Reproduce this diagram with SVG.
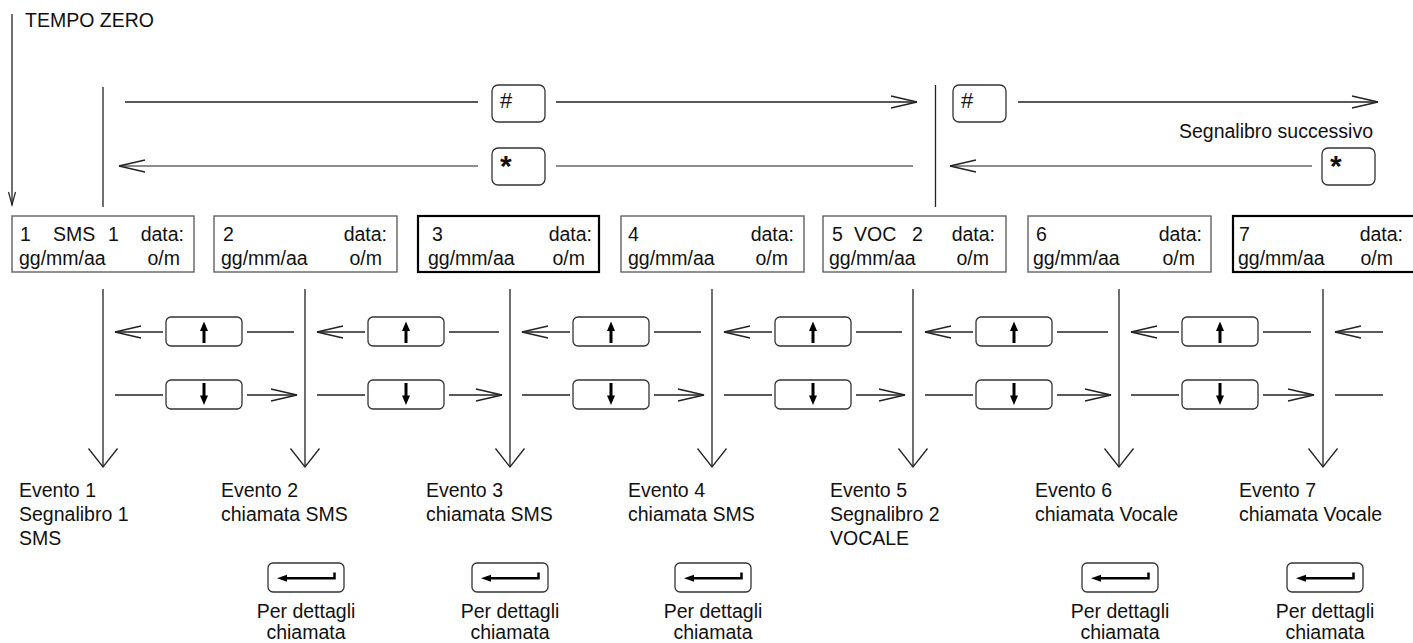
<svg xmlns="http://www.w3.org/2000/svg" width="1413" height="643" viewBox="0 0 1413 643">
<style>
text{font-family:"Liberation Sans",Arial,sans-serif;font-size:19.5px;fill:#111}
.ln{stroke:#222;stroke-width:1.3;fill:none}
.lg{stroke:#666;stroke-width:1.5;fill:none}
.key{fill:#fff;stroke:#333;stroke-width:1.3}
.box{fill:#fff;stroke:#555;stroke-width:1.3}
.boxb{fill:#fff;stroke:#000;stroke-width:2.2}
.ico{stroke:#000;stroke-width:3;fill:none}
.icf{fill:#000}
.end{text-anchor:end}
.mid{text-anchor:middle}
.hash{font-size:22px}
.star{font-weight:bold;font-size:30px}
</style>
<defs>
<marker id="ah" markerUnits="userSpaceOnUse" orient="auto" overflow="visible" refX="0" refY="0" markerWidth="30" markerHeight="30"><path d="M-26,-6 L0,0 L-26,6" fill="none" stroke="#222" stroke-width="1.3"/></marker>
<marker id="av" markerUnits="userSpaceOnUse" orient="auto" overflow="visible" refX="0" refY="0" markerWidth="30" markerHeight="30"><path d="M-18.5,-14.5 L0,0 L-18.5,14.5" fill="none" stroke="#222" stroke-width="1.3"/></marker>
<marker id="as" markerUnits="userSpaceOnUse" orient="auto" overflow="visible" refX="0" refY="0" markerWidth="20" markerHeight="20"><path d="M-13,-3.5 L0,0 L-13,3.5" fill="none" stroke="#222" stroke-width="1.2"/></marker>
<g id="upk"><rect class="key" x="0" y="0" width="76" height="29" rx="5"/><line class="ico" x1="38" y1="12" x2="38" y2="26"/><path class="icf" d="M38,4.5 L34,14 L42,14 Z"/></g>
<g id="dnk"><rect class="key" x="0" y="0" width="76" height="29" rx="5"/><line class="ico" x1="38" y1="3" x2="38" y2="17"/><path class="icf" d="M38,25 L34,15.5 L42,15.5 Z"/></g>
<g id="ent"><rect class="key" x="0" y="0" width="76" height="29" rx="5"/><path d="M17,15.3 L66.5,15.3 L66.5,9.5" fill="none" stroke="#000" stroke-width="2.5"/><path class="icf" d="M9,15.3 L19,11.8 L19,18.8 Z"/></g>
</defs>

<g id="tempo-zero"><text x="25" y="27">TEMPO ZERO</text></g>

<g id="connectors">
<line class="ln" x1="12" y1="14" x2="12" y2="205" marker-end="url(#as)"/>
<line class="ln" x1="103" y1="87" x2="103" y2="207"/>
<line class="ln" x1="935.5" y1="85" x2="935.5" y2="207"/>
<line class="ln" x1="125" y1="102" x2="478" y2="102"/>
<line class="ln" x1="556" y1="102" x2="917" y2="102" marker-end="url(#ah)"/>
<line class="ln" x1="1018" y1="102" x2="1378" y2="102" marker-end="url(#ah)"/>
<line class="lg" x1="478" y1="166" x2="119" y2="166" marker-end="url(#ah)"/>
<line class="lg" x1="556" y1="166" x2="913" y2="166"/>
<line class="lg" x1="1312" y1="166" x2="950" y2="166" marker-end="url(#ah)"/>
<line class="ln" x1="103" y1="289" x2="103" y2="467" marker-end="url(#av)"/>
<line class="ln" x1="305" y1="289" x2="305" y2="467" marker-end="url(#av)"/>
<line class="ln" x1="510" y1="289" x2="510" y2="467" marker-end="url(#av)"/>
<line class="ln" x1="712" y1="289" x2="712" y2="467" marker-end="url(#av)"/>
<line class="ln" x1="913" y1="289" x2="913" y2="467" marker-end="url(#av)"/>
<line class="ln" x1="1119" y1="289" x2="1119" y2="467" marker-end="url(#av)"/>
<line class="ln" x1="1323" y1="289" x2="1323" y2="467" marker-end="url(#av)"/>
<line class="ln" x1="163" y1="332" x2="115" y2="332" marker-end="url(#ah)"/>
<line class="ln" x1="247" y1="332" x2="294" y2="332"/>
<line class="ln" x1="115" y1="395" x2="163" y2="395"/>
<line class="ln" x1="247" y1="395" x2="297" y2="395" marker-end="url(#ah)"/>
<line class="ln" x1="365" y1="332" x2="317" y2="332" marker-end="url(#ah)"/>
<line class="ln" x1="449" y1="332" x2="499" y2="332"/>
<line class="ln" x1="317" y1="395" x2="365" y2="395"/>
<line class="ln" x1="449" y1="395" x2="502" y2="395" marker-end="url(#ah)"/>
<line class="ln" x1="570" y1="332" x2="522" y2="332" marker-end="url(#ah)"/>
<line class="ln" x1="654" y1="332" x2="701" y2="332"/>
<line class="ln" x1="522" y1="395" x2="570" y2="395"/>
<line class="ln" x1="654" y1="395" x2="704" y2="395" marker-end="url(#ah)"/>
<line class="ln" x1="772" y1="332" x2="724" y2="332" marker-end="url(#ah)"/>
<line class="ln" x1="856" y1="332" x2="902" y2="332"/>
<line class="ln" x1="724" y1="395" x2="772" y2="395"/>
<line class="ln" x1="856" y1="395" x2="905" y2="395" marker-end="url(#ah)"/>
<line class="ln" x1="973" y1="332" x2="925" y2="332" marker-end="url(#ah)"/>
<line class="ln" x1="1057" y1="332" x2="1108" y2="332"/>
<line class="ln" x1="925" y1="395" x2="973" y2="395"/>
<line class="ln" x1="1057" y1="395" x2="1111" y2="395" marker-end="url(#ah)"/>
<line class="ln" x1="1179" y1="332" x2="1131" y2="332" marker-end="url(#ah)"/>
<line class="ln" x1="1263" y1="332" x2="1311" y2="332"/>
<line class="ln" x1="1131" y1="395" x2="1179" y2="395"/>
<line class="ln" x1="1263" y1="395" x2="1314" y2="395" marker-end="url(#ah)"/>
<line class="ln" x1="1383" y1="332" x2="1335" y2="332" marker-end="url(#ah)"/>
<line class="ln" x1="1335" y1="395" x2="1383" y2="395"/>
</g>

<g id="key-hash-1"><rect class="key" x="492" y="85" width="53" height="37" rx="6"/><text class="hash" x="500" y="108">#</text></g>
<g id="key-hash-2"><rect class="key" x="953" y="85" width="53" height="37" rx="6"/><text class="hash" x="961" y="108">#</text></g>
<g id="key-star-1"><rect class="key" x="492" y="148" width="53" height="37" rx="6"/><text class="star" x="500" y="176">*</text></g>
<g id="key-star-2"><rect class="key" x="1322" y="148" width="53" height="37" rx="6"/><text class="star" x="1330" y="176">*</text></g>
<g id="label-next"><text class="end" x="1373" y="138">Segnalibro successivo</text></g>

<g id="box-1"><rect class="box" x="12" y="216" width="182" height="56"/>
<text x="20" y="241">1</text><text x="53" y="241">SMS</text><text x="108" y="241">1</text><text class="end" x="184" y="241">data:</text>
<text x="19" y="265">gg/mm/aa</text><text class="end" x="180" y="265">o/m</text></g>
<g id="box-2"><rect class="box" x="214" y="216" width="183" height="56"/>
<text x="223" y="241">2</text><text class="end" x="387" y="241">data:</text>
<text x="221" y="265">gg/mm/aa</text><text class="end" x="382" y="265">o/m</text></g>
<g id="box-3"><rect class="boxb" x="418" y="216" width="181" height="56"/>
<text x="432" y="241">3</text><text class="end" x="592" y="241">data:</text>
<text x="428" y="265">gg/mm/aa</text><text class="end" x="585" y="265">o/m</text></g>
<g id="box-4"><rect class="box" x="621" y="216" width="183" height="56"/>
<text x="628" y="241">4</text><text class="end" x="794" y="241">data:</text>
<text x="628" y="265">gg/mm/aa</text><text class="end" x="788" y="265">o/m</text></g>
<g id="box-5"><rect class="box" x="823" y="216" width="183" height="56"/>
<text x="832" y="241">5</text><text x="854" y="241">VOC</text><text x="912" y="241">2</text><text class="end" x="995" y="241">data:</text>
<text x="829" y="265">gg/mm/aa</text><text class="end" x="989" y="265">o/m</text></g>
<g id="box-6"><rect class="box" x="1028" y="216" width="183" height="56"/>
<text x="1036" y="241">6</text><text class="end" x="1202" y="241">data:</text>
<text x="1033" y="265">gg/mm/aa</text><text class="end" x="1195" y="265">o/m</text></g>
<g id="box-7"><rect class="boxb" x="1233" y="216" width="183" height="56"/>
<text x="1239" y="241">7</text><text class="end" x="1403" y="241">data:</text>
<text x="1238" y="265">gg/mm/aa</text><text class="end" x="1393" y="265">o/m</text></g>

<g id="nav-keys">
<use href="#upk" x="166" y="317"/><use href="#dnk" x="166" y="380"/>
<use href="#upk" x="368" y="317"/><use href="#dnk" x="368" y="380"/>
<use href="#upk" x="573" y="317"/><use href="#dnk" x="573" y="380"/>
<use href="#upk" x="775" y="317"/><use href="#dnk" x="775" y="380"/>
<use href="#upk" x="976" y="317"/><use href="#dnk" x="976" y="380"/>
<use href="#upk" x="1182" y="317"/><use href="#dnk" x="1182" y="380"/>
</g>

<g id="event-1"><text x="19" y="497">Evento 1</text><text x="19" y="521">Segnalibro 1</text><text x="19" y="545">SMS</text></g>
<g id="event-2"><text x="221" y="497">Evento 2</text><text x="221" y="521">chiamata SMS</text></g>
<g id="event-3"><text x="426" y="497">Evento 3</text><text x="426" y="521">chiamata SMS</text></g>
<g id="event-4"><text x="628" y="497">Evento 4</text><text x="628" y="521">chiamata SMS</text></g>
<g id="event-5"><text x="830" y="497">Evento 5</text><text x="830" y="521">Segnalibro 2</text><text x="830" y="545">VOCALE</text></g>
<g id="event-6"><text x="1035" y="497">Evento 6</text><text x="1035" y="521">chiamata Vocale</text></g>
<g id="event-7"><text x="1239" y="497">Evento 7</text><text x="1239" y="521">chiamata Vocale</text></g>

<g id="enter-2"><use href="#ent" x="268" y="563"/><text class="mid" x="306" y="618">Per dettagli</text><text class="mid" x="306" y="639">chiamata</text></g>
<g id="enter-3"><use href="#ent" x="472" y="563"/><text class="mid" x="510" y="618">Per dettagli</text><text class="mid" x="510" y="639">chiamata</text></g>
<g id="enter-4"><use href="#ent" x="675" y="563"/><text class="mid" x="713" y="618">Per dettagli</text><text class="mid" x="713" y="639">chiamata</text></g>
<g id="enter-6"><use href="#ent" x="1082" y="563"/><text class="mid" x="1120" y="618">Per dettagli</text><text class="mid" x="1120" y="639">chiamata</text></g>
<g id="enter-7"><use href="#ent" x="1287" y="563"/><text class="mid" x="1325" y="618">Per dettagli</text><text class="mid" x="1325" y="639">chiamata</text></g>
</svg>
